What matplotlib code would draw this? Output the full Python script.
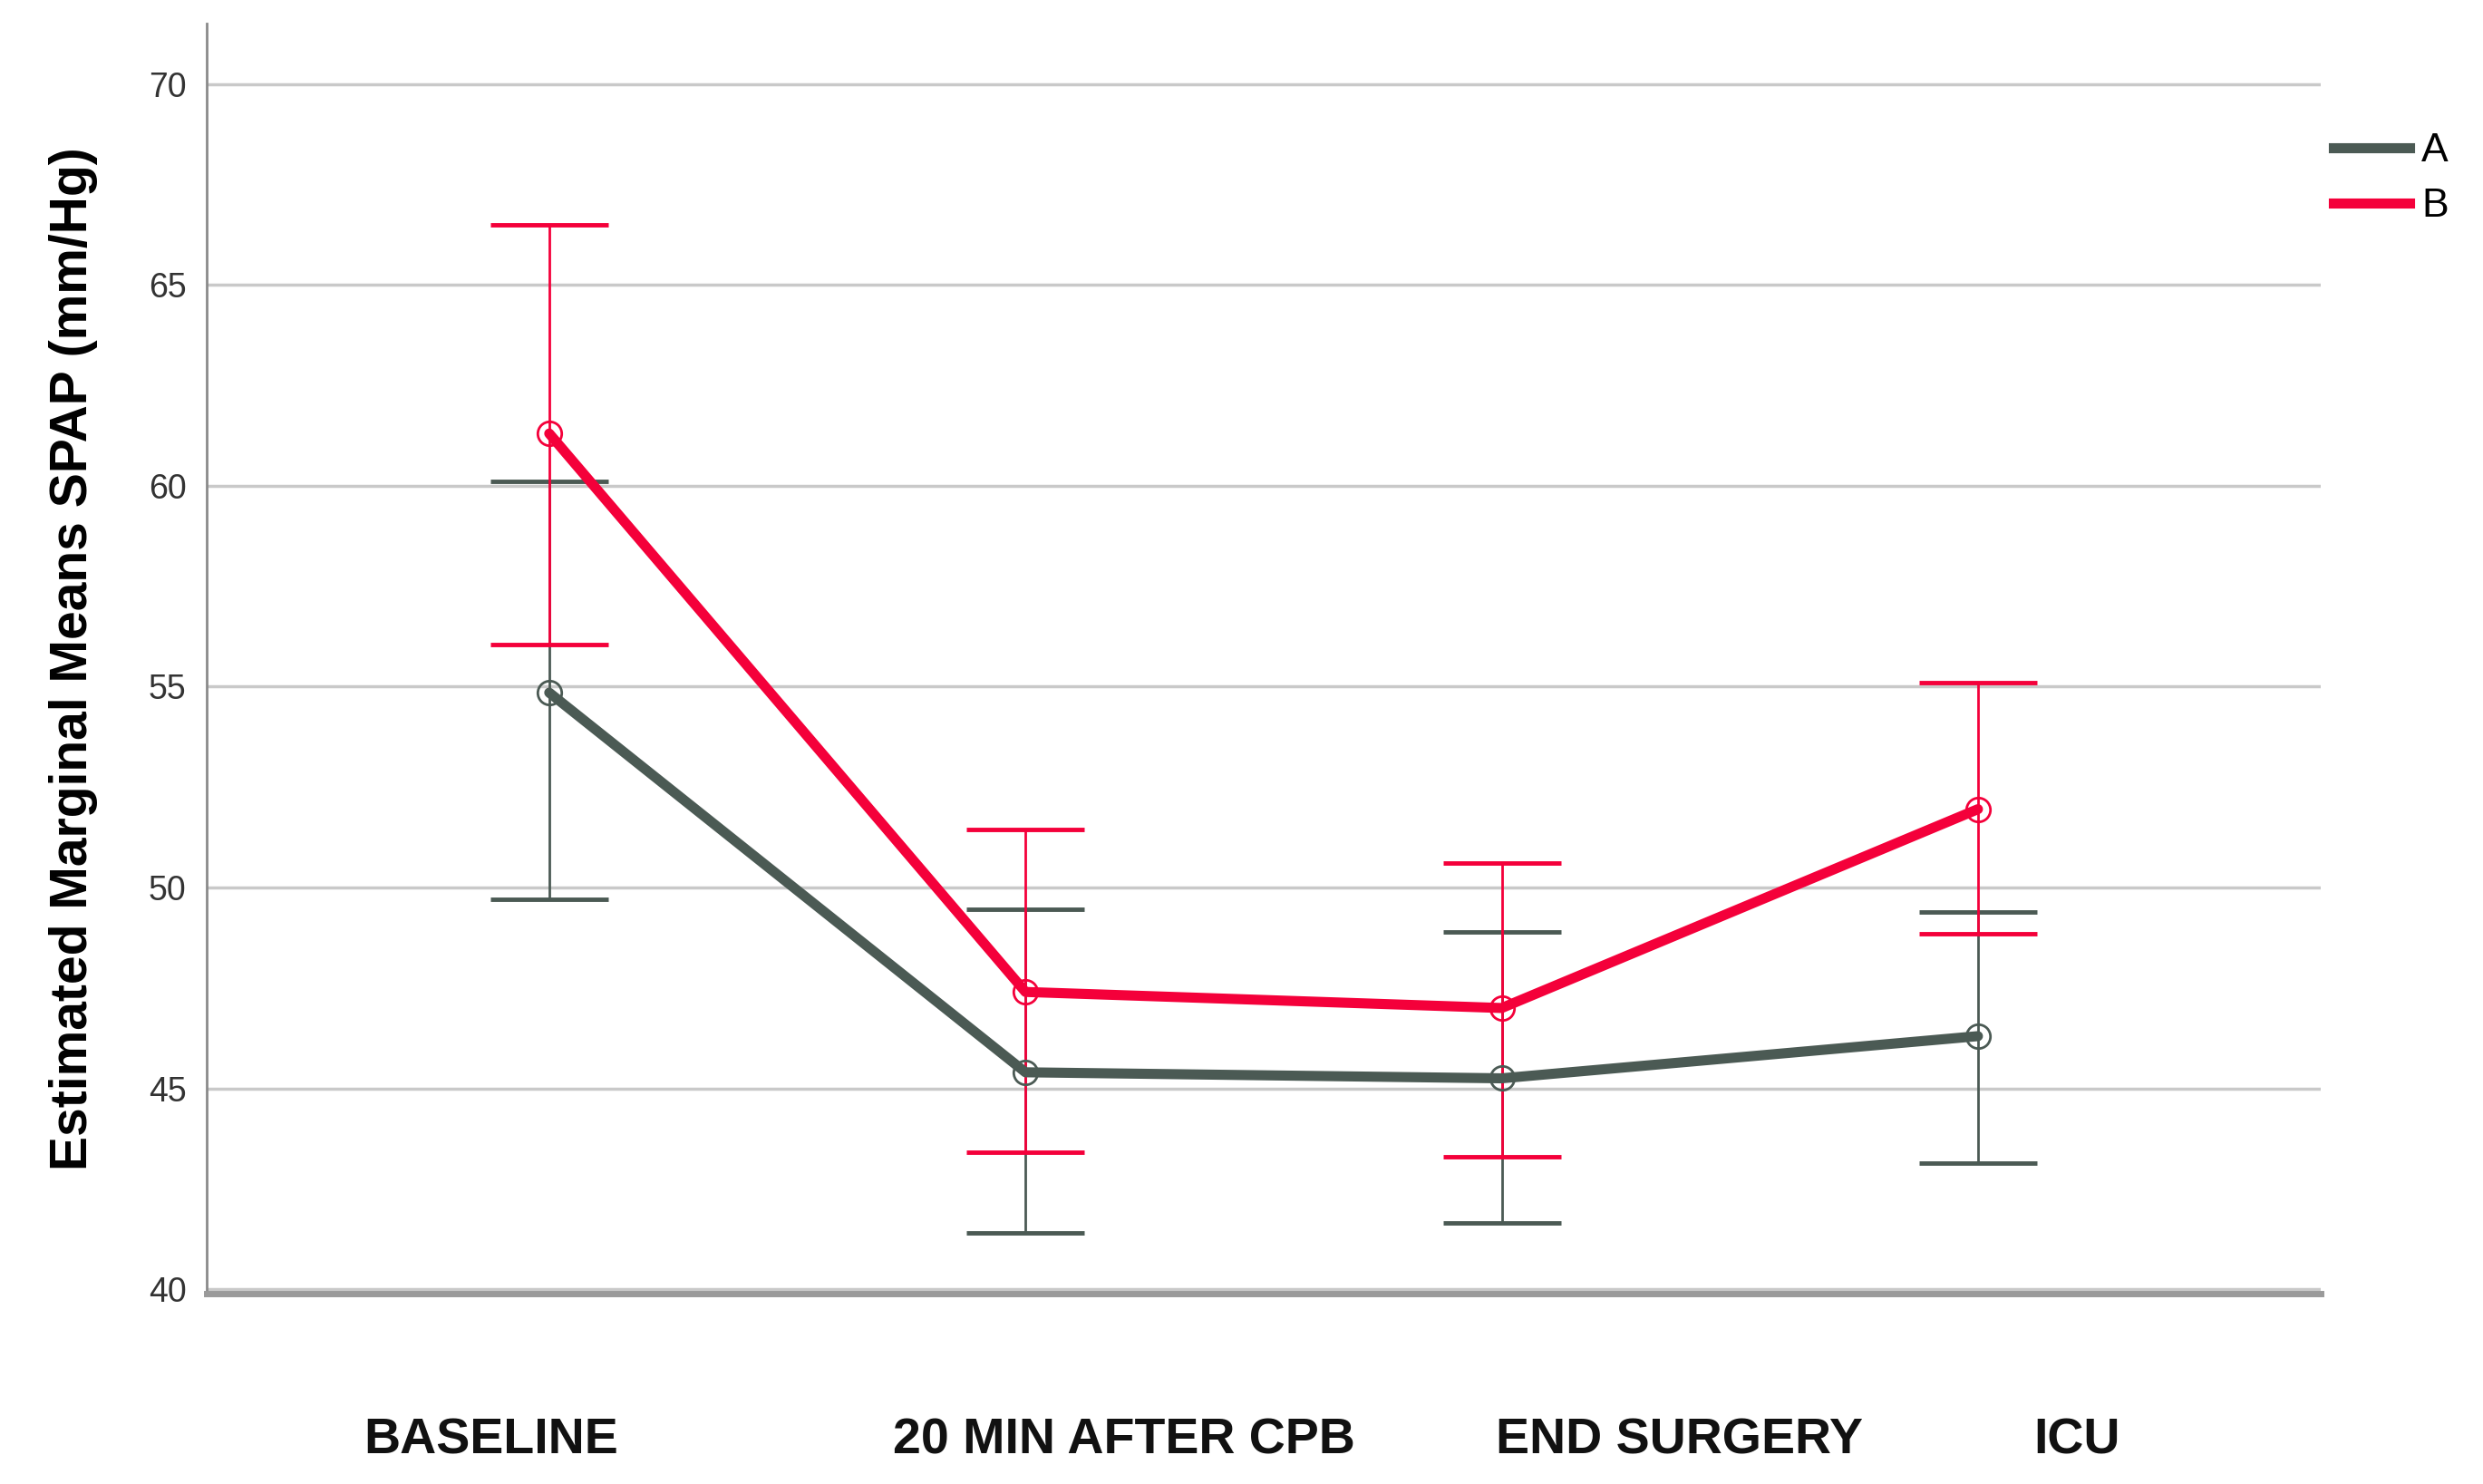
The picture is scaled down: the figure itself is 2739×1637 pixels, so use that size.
import matplotlib
matplotlib.use("Agg")
import matplotlib.pyplot as plt
import matplotlib.transforms as mtransforms
from matplotlib.lines import Line2D

# ======================
# DATA
# ======================
timepoints = ["BASELINE", "20 MIN AFTER CPB", "END SURGERY", "ICU"]
x = [0, 1, 2, 3]

mean_a = [54.85, 45.4, 45.25, 46.3]
low_a = [49.7, 41.4, 41.65, 43.15]
high_a = [60.1, 49.45, 48.9, 49.4]

mean_b = [61.3, 47.4, 47.0, 51.95]
low_b = [56.05, 43.4, 43.3, 48.85]
high_b = [66.5, 51.45, 50.6, 55.1]

yticks = [40, 45, 50, 55, 60, 65, 70]

col_a = "#4b5a54"
col_b = "#f4003a"

plt.rcParams['font.family'] = ['Liberation Sans', 'DejaVu Sans']

fig = plt.figure(figsize=(27.39, 16.37), dpi=100)
ax = fig.add_axes([0.0831, 0.128, 0.8516, 0.856])

for yt in yticks:
    ax.axhline(yt, color="#c9c9c9", lw=2.5, zorder=0)

series = [("A", mean_a, low_a, high_a, col_a),
          ("B", mean_b, low_b, high_b, col_b)]

for name, m, lo, hi, c in series:
    err = [[mi - l for mi, l in zip(m, lo)], [h - mi for mi, h in zip(m, hi)]]
    ax.errorbar(x, m, yerr=err, fmt="none", ecolor=c, elinewidth=2.0,
                capsize=47, capthick=3.5, zorder=2)
    ax.plot(x, m, color=c, lw=8, zorder=3, solid_capstyle="round")
    ax.plot(x, m, "o", ms=19, mfc="none", mec=c, mew=2, zorder=4)

ax.set_xlim(-0.72, 3.72)
ax.set_ylim(39.88, 71.5)
ax.set_yticks(yticks)
ax.set_xticks([])
ax.tick_params(axis="y", length=0, pad=16, labelsize=27, labelcolor="#333333")

for s in ["top", "right"]:
    ax.spines[s].set_visible(False)
ax.spines["left"].set_color("#8a8a8a")
ax.spines["left"].set_linewidth(2)
ax.spines["bottom"].set_color("#9a9a9a")
ax.spines["bottom"].set_linewidth(5)

ax.set_ylabel("Estimated Marginal Means SPAP (mm/Hg)", fontsize=41,
              fontweight="bold", labelpad=40)

# category labels below the axis (offset from the points as in the original)
label_x = [-0.123, 1.207, 2.373, 3.207]
trans = mtransforms.blended_transform_factory(ax.transData, fig.transFigure)
for lx, lab in zip(label_x, timepoints):
    ax.text(lx, 0.029, lab, transform=trans, ha="center", va="center",
            fontsize=40, fontweight="bold", color="#111111")

handles = [Line2D([], [], color=col_a, lw=8), Line2D([], [], color=col_b, lw=8)]
fig.legend(handles, ["A", "B"], loc="upper left", bbox_to_anchor=(0.925, 0.935),
           frameon=False, fontsize=32, handlelength=1.9, handletextpad=0.3,
           labelspacing=0.45)

fig.savefig("out.png", dpi=100)
